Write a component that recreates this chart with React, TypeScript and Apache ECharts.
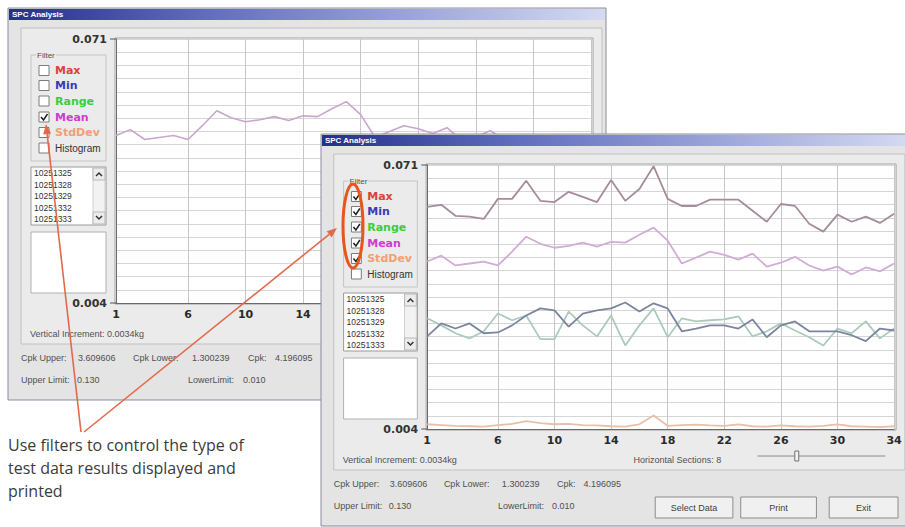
import React, { useEffect, useRef } from 'react';
import * as echarts from 'echarts';

// ---------- data ----------
const CATEGORIES = [1, 2, 3, 4, 5, 6, 7, 8, 9, 10, 11, 12, 13, 14, 15, 16, 17, 18, 19, 20, 21, 22, 23, 24, 25, 26, 27, 28, 29, 30, 31, 32, 33, 34];
const TICK_LABELS = [1, 6, 10, 14, 18, 22, 26, 30, 34];
const Y_MIN = 0.004;
const Y_MAX = 0.071;
const SECTIONS = 20;
const Y_TICK_LABELS = ['0.004', '0.071'];

const MAX_VALUES = [0.0604, 0.0609, 0.0581, 0.0579, 0.0573, 0.0624, 0.0624, 0.0670, 0.0619, 0.0616, 0.0642, 0.0629, 0.0616, 0.0672, 0.0619, 0.0649, 0.0707, 0.0624, 0.0606, 0.0606, 0.0622, 0.0622, 0.0622, 0.0594, 0.0566, 0.0611, 0.0606, 0.0561, 0.0541, 0.0584, 0.0566, 0.0579, 0.0563, 0.0586];
const MEAN_VALUES = [0.0465, 0.0480, 0.0455, 0.0460, 0.0465, 0.0455, 0.0490, 0.0528, 0.0510, 0.0500, 0.0505, 0.0513, 0.0503, 0.0515, 0.0513, 0.0533, 0.0551, 0.0518, 0.0460, 0.0475, 0.0490, 0.0482, 0.0470, 0.0485, 0.0452, 0.0462, 0.0477, 0.0455, 0.0442, 0.0452, 0.0432, 0.0450, 0.0440, 0.0460];
const MIN_VALUES = [0.0275, 0.0308, 0.0295, 0.0308, 0.0283, 0.0285, 0.0303, 0.0328, 0.0346, 0.0341, 0.0300, 0.0333, 0.0341, 0.0346, 0.0361, 0.0338, 0.0359, 0.0346, 0.0288, 0.0295, 0.0303, 0.0303, 0.0295, 0.0318, 0.0273, 0.0303, 0.0313, 0.0288, 0.0288, 0.0288, 0.0278, 0.0263, 0.0295, 0.0290];
const RANGE_VALUES = [0.0321, 0.0303, 0.0283, 0.0270, 0.0288, 0.0333, 0.0316, 0.0328, 0.0268, 0.0268, 0.0338, 0.0303, 0.0275, 0.0328, 0.0252, 0.0303, 0.0346, 0.0273, 0.0321, 0.0313, 0.0316, 0.0318, 0.0326, 0.0275, 0.0288, 0.0308, 0.0290, 0.0273, 0.0252, 0.0295, 0.0283, 0.0313, 0.0270, 0.0295];
const STDDEV_VALUES = [0.0052, 0.0050, 0.0048, 0.0047, 0.0046, 0.0050, 0.0053, 0.0060, 0.0055, 0.0052, 0.0053, 0.0050, 0.0049, 0.0047, 0.0046, 0.0052, 0.0074, 0.0048, 0.0050, 0.0051, 0.0049, 0.0048, 0.0052, 0.0047, 0.0046, 0.0049, 0.0047, 0.0046, 0.0048, 0.0052, 0.0047, 0.0046, 0.0045, 0.0047];

const FILTERS = ['Max', 'Min', 'Range', 'Mean', 'StdDev', 'Histogram'];
const FILTER_COLORS = ['#d8433a', '#3a3ab8', '#3ccc3c', '#d23ad2', '#f0a074', '#333333'];
const BACK_CHECKED = [false, false, false, true, false, false];
const FRONT_CHECKED = [true, true, true, true, true, false];
const LIST_ITEMS = ['10251325', '10251328', '10251329', '10251332', '10251333'];
const CPK_LABELS = ['Cpk Upper:', 'Cpk Lower:', 'Cpk:'];
const CPK_VALUES = ['3.609606', '1.300239', '4.196095'];
const LIMIT_LABELS = ['Upper Limit:', 'LowerLimit:'];
const LIMIT_VALUES = ['0.130', '0.010'];
const BUTTONS = ['Select Data', 'Print', 'Exit'];
const TITLE = 'SPC Analysis';
const VERTICAL_INCREMENT = 'Vertical Increment: 0.0034kg';
const HORIZONTAL_SECTIONS = 'Horizontal Sections: 8';
const NOTE_LINES = ['Use filters to control the type of', 'test data results displayed and', 'printed'];

// ---------- layout ----------
type Frame = { ox: number; oy: number; sx: number; clipX?: number };
const FRONT: Frame = { ox: 321, oy: 134, sx: 0.983 };
const BACK: Frame = { ox: 8, oy: 8, sx: 1, clipX: FRONT.ox - 4 };
const PLOT = { x: 108, y: 31, w: 475, h: 264 };
const FILTER_ROWS = [62.5, 77.5, 93, 109, 124.5, 140];
const LIST_ROWS = [165, 176.5, 188, 199.5, 211];
const CPK_X = [[13, 70], [125, 184], [240, 267]];
const LIMIT_X = [[13, 69], [180, 235]];
const BUTTON_BOX = [[340, 79], [427, 77], [517, 70]];

const UI_FONT = '"Liberation Sans", Arial, sans-serif';
const toSec = (v: number) => (v - Y_MIN) / ((Y_MAX - Y_MIN) / SECTIONS);

function buildWindow(f: Frame, checked: boolean[], base: number) {
  const X = (x: number) => f.ox + x * f.sx;
  const Y = (y: number) => f.oy + y;
  const W = (w: number) => w * f.sx;
  const hidden = (x: number) => f.clipX !== undefined && X(x) > f.clipX;
  const els: any[] = [];
  const rect = (x: number, y: number, w: number, h: number, style: any, layer: number) =>
    els.push({ type: 'rect', silent: true, z: base + layer, shape: { x: X(x), y: Y(y), width: W(w), height: h }, style });
  const text = (x: number, y: number, t: string, font: string, fill: string, align = 'left', extra: any = {}) => {
    if (hidden(x)) return;
    els.push({
      type: 'text', silent: true, z: base + 3, x: X(x), y: Y(y),
      style: { text: t, font, fill, align, verticalAlign: 'middle', textAlign: align, textVerticalAlign: 'middle', ...extra },
    });
  };
  const poly = (pts: number[][], stroke: string, lw: number) =>
    els.push({ type: 'polyline', silent: true, z: base + 3, shape: { points: pts.map((p) => [X(p[0]), Y(p[1])]) }, style: { stroke, lineWidth: lw, fill: null } });

  // window body + title
  rect(0, 0, 598, 392, { fill: '#e4e4e4', stroke: '#8a8a9a', lineWidth: 1 }, 0);
  rect(1, 1, 596, 11, {
    fill: new echarts.graphic.LinearGradient(0, 0, 1, 0, [
      { offset: 0, color: '#24308a' },
      { offset: 0.35, color: '#6470c0' },
      { offset: 1, color: '#d4daf2' },
    ]),
  }, 1);
  text(4, 6.5, TITLE, `bold 8px ${UI_FONT}`, '#ffffff');

  // panel
  rect(13, 20, 581, 316, { fill: '#ebebeb', stroke: '#c0c0c0', lineWidth: 1 }, 1);

  // filter group
  rect(23, 47, 75, 106, { fill: 'none', stroke: '#c4c4c4', lineWidth: 1 }, 2);
  text(28, 47, 'Filter', `8px ${UI_FONT}`, '#505050', 'left', { backgroundColor: '#ebebeb', padding: [0, 1] });
  FILTERS.forEach((name, i) => {
    const ry = FILTER_ROWS[i];
    rect(31, ry - 5, 10, 10, { fill: '#ffffff', stroke: '#7c7c7c', lineWidth: 1 }, 2);
    if (checked[i]) poly([[33, ry], [35.5, ry + 3], [39.5, ry - 3]], '#222222', 1.5);
    text(47, ry, name, i === 5 ? `10px ${UI_FONT}` : 'bold 11px "DejaVu Sans", sans-serif', FILTER_COLORS[i]);
  });

  // list box
  rect(23, 159, 75, 58, { fill: '#ffffff', stroke: '#9a9a9a', lineWidth: 1 }, 2);
  LIST_ITEMS.forEach((it, i) => text(26, LIST_ROWS[i], it, `8.5px ${UI_FONT}`, '#333333', 'left', { lineHeight: 9 }));
  rect(85, 160, 12, 56, { fill: '#f2f2f2', stroke: '#d0d0d0', lineWidth: 1 }, 2);
  rect(85, 160, 12, 12, { fill: '#ececec', stroke: '#b8b8b8', lineWidth: 1 }, 2);
  rect(85, 204, 12, 12, { fill: '#ececec', stroke: '#b8b8b8', lineWidth: 1 }, 2);
  poly([[88, 168], [91, 165], [94, 168]], '#333333', 1.5);
  poly([[88, 208], [91, 211], [94, 208]], '#333333', 1.5);

  // empty box
  rect(23, 224, 75, 61, { fill: '#ffffff', stroke: '#b0b0b0', lineWidth: 1 }, 2);

  // plot background + frame
  rect(PLOT.x - 1, PLOT.y - 1, PLOT.w + 3, PLOT.h + 2, { fill: '#ffffff', stroke: '#a0a0a0', lineWidth: 1 }, 2);
  // small ticks beside the extreme labels
  poly([[PLOT.x - 6, PLOT.y], [PLOT.x, PLOT.y]], '#555555', 1);
  poly([[PLOT.x - 6, PLOT.y + PLOT.h], [PLOT.x, PLOT.y + PLOT.h]], '#555555', 1);

  // texts under chart
  text(22, 326, VERTICAL_INCREMENT, `9px ${UI_FONT}`, '#505050');
  text(318, 326, HORIZONTAL_SECTIONS, `9px ${UI_FONT}`, '#505050');
  if (!hidden(444)) {
    poly([[444, 322], [574, 322]], '#8a8a8a', 1);
    rect(482, 317, 4, 10, { fill: '#f4f4f4', stroke: '#707070', lineWidth: 1 }, 3);
  }

  CPK_LABELS.forEach((l, i) => {
    text(CPK_X[i][0], 350, l, `9px ${UI_FONT}`, '#505050');
    text(CPK_X[i][1], 350, CPK_VALUES[i], `9px ${UI_FONT}`, '#505050');
  });
  LIMIT_LABELS.forEach((l, i) => {
    text(LIMIT_X[i][0], 372, l, `9px ${UI_FONT}`, '#505050');
    text(LIMIT_X[i][1], 372, LIMIT_VALUES[i], `9px ${UI_FONT}`, '#505050');
  });
  BUTTONS.forEach((b, i) => {
    if (hidden(BUTTON_BOX[i][0])) return;
    rect(BUTTON_BOX[i][0], 363, BUTTON_BOX[i][1], 21, { fill: '#f0f0f0', stroke: '#8c8c8c', lineWidth: 1 }, 2);
    text(BUTTON_BOX[i][0] + BUTTON_BOX[i][1] / 2, 373.5, b, `9px ${UI_FONT}`, '#404040', 'center');
  });
  return els;
}

function gridFor(f: Frame) {
  return { left: f.ox + PLOT.x * f.sx, top: f.oy + PLOT.y, width: PLOT.w * f.sx, height: PLOT.h, show: false };
}

function arrow(x0: number, y0: number, x1: number, y1: number, color: string) {
  const len = Math.hypot(x1 - x0, y1 - y0);
  const ux = (x1 - x0) / len, uy = (y1 - y0) / len;
  const nx = -uy, ny = ux;
  const bx = x1 - ux * 10, by = y1 - uy * 10;
  return [
    { type: 'line', silent: true, z: 30, shape: { x1: x0, y1: y0, x2: bx, y2: by }, style: { stroke: color, lineWidth: 1.6 } },
    { type: 'polygon', silent: true, z: 30, shape: { points: [[x1, y1], [bx + nx * 4, by + ny * 4], [bx - nx * 4, by - ny * 4]] }, style: { fill: color } },
  ];
}

const LABEL_IDX = TICK_LABELS.map((t) => CATEGORIES.indexOf(t));

function axesFor(gi: number, f: Frame, z: number) {
  const g = gridFor(f);
  const step = g.width / (CATEGORIES.length - 1);
  const visible = (i: number) => f.clipX === undefined || g.left + i * step + 8 < f.clipX;
  const x = {
    type: 'category', gridIndex: gi, data: CATEGORIES, boundaryGap: false, z,
    axisLine: { lineStyle: { color: '#6a6a6a', width: 1 } },
    axisTick: { show: false },
    axisLabel: {
      interval: (i: number) => LABEL_IDX.includes(i) && visible(i),
      fontFamily: '"DejaVu Sans", sans-serif', fontWeight: 'bold', fontSize: 11, color: '#2a2a2a', margin: 6,
    },
    splitLine: { show: true, interval: (i: number) => i > 0 && LABEL_IDX.includes(i), lineStyle: { color: '#c6c6c6', width: 1 } },
  };
  const y = {
    type: 'value', gridIndex: gi, min: 0, max: SECTIONS, interval: 1, z,
    axisLine: { show: true, lineStyle: { color: '#6a6a6a', width: 1 } },
    axisTick: { show: false },
    axisLabel: {
      formatter: (v: number) => (v === 0 ? Y_TICK_LABELS[0] : v === SECTIONS ? Y_TICK_LABELS[1] : ''),
      fontFamily: '"DejaVu Sans", sans-serif', fontWeight: 'bold', fontSize: 11, color: '#333333', margin: 9,
    },
    splitLine: { show: true, lineStyle: { color: '#d6d6d6', width: 1 } },
  };
  return { x, y };
}

function lineSeries(name: string, data: number[], gi: number, color: string, z: number, width = 1.8) {
  return {
    type: 'line', name, xAxisIndex: gi, yAxisIndex: gi, data: data.map(toSec), z,
    symbol: 'none', showSymbol: false, silent: true,
    lineStyle: { color, width },
  };
}

export default function App() {
  const ref = useRef<HTMLDivElement>(null);
  useEffect(() => {
    if (!ref.current) return;
    const chart = echarts.init(ref.current, undefined, { renderer: 'svg' });
    const back = axesFor(0, BACK, 5);
    const front = axesFor(1, FRONT, 15);
    const noteColor = '#e2694a';
    const graphics: any[] = [
      ...buildWindow(BACK, BACK_CHECKED, 0),
      ...buildWindow(FRONT, FRONT_CHECKED, 10),
      { type: 'ellipse', silent: true, z: 25, shape: { cx: 353, cy: 226, rx: 10, ry: 42 }, style: { fill: 'none', stroke: '#e8561f', lineWidth: 3 } },
      ...arrow(81, 432, 46, 124, noteColor),
      ...arrow(84, 432, 337, 228, noteColor),
      ...NOTE_LINES.map((t, i) => ({
        type: 'text', silent: true, z: 30, x: 8, y: 445 + i * 23,
        style: { text: t, font: '16px "Open Sans", sans-serif', fill: '#3b3b3b', align: 'left', verticalAlign: 'middle', textAlign: 'left', textVerticalAlign: 'middle' },
      })),
    ];
    chart.setOption({
      animation: false,
      backgroundColor: '#ffffff',
      grid: [gridFor(BACK), gridFor(FRONT)],
      xAxis: [back.x, front.x],
      yAxis: [back.y, front.y],
      series: [
        lineSeries('Mean', MEAN_VALUES, 0, '#c9a6cc', 6, 1.6),
        lineSeries('StdDev', STDDEV_VALUES, 1, '#e8c0aa', 16),
        lineSeries('Range', RANGE_VALUES, 1, '#aacbbb', 16),
        lineSeries('Min', MIN_VALUES, 1, '#7c84a0', 16),
        lineSeries('Mean', MEAN_VALUES, 1, '#d2acd6', 16),
        lineSeries('Max', MAX_VALUES, 1, '#a48c9c', 16),
      ],
      graphic: { elements: graphics },
    });
    return () => chart.dispose();
  }, []);
  return <div ref={ref} style={{ position: 'fixed', left: 0, top: 0, width: 905, height: 527, background: '#ffffff' }} />;
}
